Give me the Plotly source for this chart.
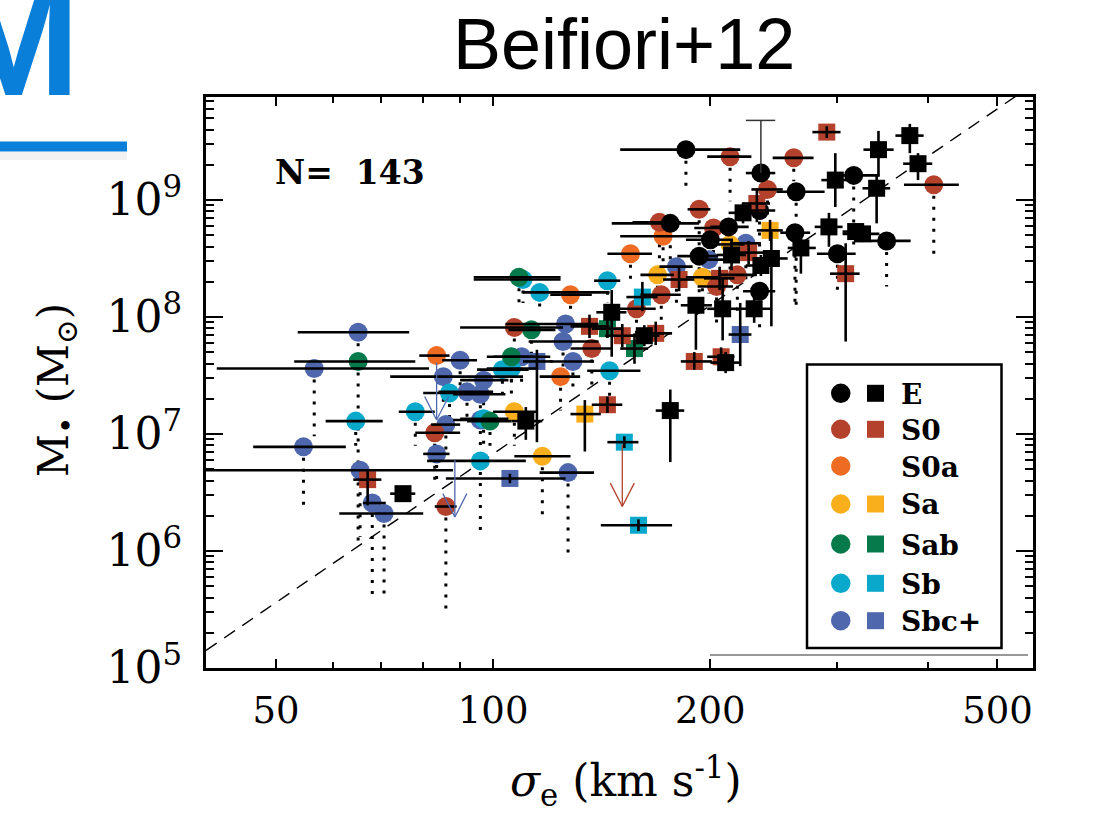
import numpy as np
import plotly.graph_objects as go

# ---------------- data ----------------
COLORS = {"E": "#000000", "S0": "#B3412C", "S0a": "#EE6B24", "Sa": "#F9AE1C",
          "Sab": "#077A4B", "Sb": "#0AA9CC", "Sbc+": "#4F68AD"}

# circles: (sigma_e [km/s], log M_bh, sigma_lo, sigma_hi, log M lower end of dotted range)
circ_E = [
    (185, 9.43, 150, 220, 9.06), (235, 9.23, 224, 246, 8.95), (316, 9.21, 305, 343, 8.60),
    (263, 9.07, 247, 288, 8.09), (351, 8.65, 333, 379, 8.26), (262, 8.72, 250, 275, 8.07),
    (300, 8.54, 281, 318, 8.20), (212, 8.77, 200, 226, 8.40), (176, 8.80, 146, 193, 8.45),
    (200, 8.66, 185, 215, 8.30), (193, 8.52, 180, 205, 8.10), (234, 8.22, 222, 246, 7.90),
    (234, 8.91, 222, 246, 8.60),
]
circ_E_upper = [(235, 9.23, 9.68, 224, 246)]  # sigma, logM, upper logM, cap lo, cap hi

circ_S0 = [
    (213, 9.37, 198, 228, 8.99), (261, 9.36, 244, 278, 9.16), (408, 9.13, 371, 442, 8.52),
    (193, 8.92, 186, 200, 8.60), (240, 9.09, 228, 252, 8.80), (170, 8.81, 156, 182, 8.50),
    (202, 8.76, 190, 215, 8.40), (218, 8.36, 205, 232, 8.00), (171, 8.19, 160, 182, 7.90),
    (158, 8.07, 148, 168, 7.80), (107, 7.91, 90, 125, 7.70), (137, 7.73, 128, 146, 7.40),
    (83, 7.01, 78, 90, 6.60), (86, 6.38, 83, 89, 5.50), (204, 8.26, 192, 215, 7.95),
]
circ_S0a = [
    (172, 8.69, 150, 195, 8.40), (155, 8.54, 144, 166, 8.30), (128, 8.19, 120, 137, 7.90),
    (124, 7.49, 116, 132, 7.20), (83.5, 7.67, 79, 87, 7.60),
]
circ_Sa = [
    (213, 8.62, 203, 223, 8.40), (169, 8.36, 160, 178, 8.10), (195, 8.34, 185, 205, 8.05),
    (107, 7.19, 100, 115, 6.90), (117, 6.81, 107, 128, 6.29),
]
circ_Sab = [
    (108.6, 8.34, 94, 124, 8.12), (113, 7.89, 105, 122, 7.60), (106, 7.66, 98, 114, 7.40),
    (65, 7.62, 53, 78, 6.09), (99, 7.11, 92, 106, 6.90),
]
circ_Sb = [
    (110, 8.32, 94, 124, 8.12), (116, 8.21, 110, 145, 8.05), (144, 8.31, 138, 150, 8.12),
    (145, 7.54, 135, 160, 7.30), (103, 7.55, 95, 112, 7.30), (106, 7.56, 98, 115, 7.30),
    (87, 7.35, 80, 96, 7.10), (78, 7.19, 74, 83, 6.90), (97, 7.13, 90, 105, 6.85),
    (96, 6.77, 81, 111, 6.12), (64.5, 7.11, 58.6, 70.3, 6.90),
]
circ_Sbc = [
    (65, 7.87, 53.6, 76.5, 7.75), (56.5, 7.56, 41.4, 81.5, 6.98), (54.6, 6.89, 46.5, 62.5, 6.35),
    (65.4, 6.69, 40, 88, 6.12), (68, 6.41, 66, 71, 5.58), (70.6, 6.32, 61.2, 80, 5.61),
    (90, 7.63, 85, 95, 7.40), (85.3, 7.49, 72, 110, 7.25), (92, 7.36, 84, 100, 7.10),
    (96, 7.34, 88, 104, 7.05), (97, 7.46, 90, 105, 7.20), (86, 7.08, 82, 90, 6.85),
    (83.5, 6.83, 80, 87, 6.60), (96, 7.12, 88, 104, 6.90), (126, 7.94, 104, 140, 7.70),
    (125, 7.79, 112, 140, 7.55), (129, 7.62, 120, 138, 7.40), (109.5, 7.66, 100, 120, 7.40),
    (127, 6.67, 116, 138, 5.92), (179.5, 8.43, 170, 189, 8.10), (199, 8.49, 189, 209, 8.20),
    (224, 8.63, 213, 235, 8.30),
]

# squares: (sigma_e, log M_bh, sigma_lo, sigma_hi, logM_lo, logM_hi)
sq_E = [
    (342, 9.43, 326, 359, 9.20, 9.59), (378, 9.55, 361, 395, 9.40, 9.65), (388, 9.31, 370, 406, 9.17, 9.40),
    (298, 9.17, 285, 309, 8.94, 9.40), (340, 9.10, 325, 355, 8.80, 9.21), (292, 8.77, 279, 305, 8.60, 8.89),
    (318, 8.73, 305, 332, 8.65, 8.80), (325, 8.71, 305, 343, 8.64, 8.78), (267, 8.59, 256, 280, 8.37, 8.69),
    (222, 8.89, 212, 232, 8.80, 8.98), (214, 8.53, 204, 224, 8.40, 8.66), (243, 8.50, 232, 256, 7.92, 8.73),
    (235, 8.44, 224, 247, 8.35, 8.53), (191, 8.10, 182, 201, 7.72, 8.17), (208, 8.07, 198, 218, 7.80, 8.34),
    (230, 8.07, 217, 242, 7.95, 8.18), (146, 8.04, 139, 153, 7.66, 8.23), (162, 7.84, 155, 170, 7.75, 7.93),
    (210, 7.61, 200, 220, 7.52, 7.70), (111, 7.11, 106, 117, 6.95, 7.23), (75, 6.49, 72, 78, 6.44, 6.54),
    (176, 7.20, 168, 184, 6.76, 7.38),
]
sq_S0 = [
    (290, 9.58, 277, 303, 9.53, 9.63), (232, 8.97, 222, 242, 8.81, 9.10), (226, 8.55, 215, 238, 8.45, 8.65),
    (308, 8.37, 293, 322, 7.79, 8.63), (181, 8.32, 172, 190, 8.22, 8.42), (206, 8.33, 196, 216, 8.23, 8.43),
    (136, 7.92, 128, 145, 7.82, 8.02), (151, 7.84, 143, 160, 7.74, 7.94), (168, 7.86, 160, 177, 7.76, 7.96),
    (190, 7.62, 182, 201, 7.55, 7.70), (207, 7.66, 198, 216, 7.58, 7.74), (144, 7.25, 137, 151, 7.18, 7.32),
    (67, 6.61, 64, 70, 6.39, 6.69),
]
sq_Sa = [(242, 8.74, 232, 252, 8.65, 8.83), (134, 7.17, 128, 141, 6.85, 7.29)]
sq_Sab = [(144, 7.90, 137, 151, 7.82, 7.98), (157, 7.73, 150, 164, 7.60, 7.86)]
sq_Sb = [(161, 8.17, 153, 169, 8.05, 8.30), (152, 6.93, 144, 159, 6.88, 6.98), (159, 6.22, 141, 177, 6.17, 6.27)]
sq_Sbc = [(115, 7.62, 110, 121, 6.93, 7.72), (105.5, 6.62, 86, 126, 6.58, 6.66), (220, 7.85, 212, 228, 7.58, 8.12)]

# upper-limit arrows: (sigma_e, logM start, logM tip, class)
arrows = [(83.5, 7.61, 7.12, "Sbc+"), (88.5, 6.78, 6.29, "Sbc+"), (151, 6.91, 6.38, "S0")]

# fitted relation: log M = FIT_A + FIT_B * log(sigma / FIT_PIVOT)
FIT_A, FIT_B, FIT_PIVOT = 8.10, 4.22, 200.0

N_TEXT = "N=&nbsp;&nbsp;143"
legend_labels = ["E", "S0", "S0a", "Sa", "Sab", "Sb", "Sbc+"]
legend_square = [True, True, False, True, True, True, True]

x_ticks = [50, 100, 200, 500]
x_minor = [40, 60, 70, 80, 90, 300, 400]
y_ticks = [1e5, 1e6, 1e7, 1e8, 1e9]
y_ticktext = ["10<sup>5</sup>", "10<sup>6</sup>", "10<sup>7</sup>", "10<sup>8</sup>", "10<sup>9</sup>"]
y_minor = [k * 10.0 ** n for n in range(5, 10) for k in range(2, 10)]

X_RANGE = (40, 560)
Y_RANGE_LOG = (5.0, 9.88)

circles = {"E": circ_E, "S0": circ_S0, "S0a": circ_S0a, "Sa": circ_Sa,
           "Sab": circ_Sab, "Sb": circ_Sb, "Sbc+": circ_Sbc}
squares = {"E": sq_E, "S0": sq_S0, "Sa": sq_Sa, "Sab": sq_Sab, "Sb": sq_Sb, "Sbc+": sq_Sbc}
order = ["Sbc+", "Sb", "Sab", "Sa", "S0a", "S0", "E"]

# ---------------- figure ----------------
W, H = 1102, 817
L, R, T, B = 206, 1033, 97, 668


def px(x):
    return (x - L) / (R - L)


def py(y):
    return (B - y) / (B - T)


fig = go.Figure()

# fit line
sf = np.logspace(np.log10(X_RANGE[0]), np.log10(X_RANGE[1]), 60)
mf = 10 ** (FIT_A + FIT_B * np.log10(sf / FIT_PIVOT))
fig.add_trace(go.Scatter(x=sf, y=mf, mode="lines",
                         line=dict(color="black", width=1.4, dash="13px,9px"),
                         hoverinfo="skip", showlegend=False))

# dotted ranges for circles
dx, dy = [], []
for k in order:
    for s, m, slo, shi, mlo in circles[k]:
        dx += [s, s, None]
        dy += [10 ** m, 10 ** mlo, None]
fig.add_trace(go.Scatter(x=dx, y=dy, mode="lines",
                         line=dict(color="black", width=3, dash="3px,8px"),
                         hoverinfo="skip", showlegend=False))

# markers
for k in order:
    pts = circles[k]
    fig.add_trace(go.Scatter(x=[p[0] for p in pts], y=[10 ** p[1] for p in pts], mode="markers",
                             marker=dict(symbol="circle", size=19, color=COLORS[k], line=dict(width=0)),
                             name=k, showlegend=False))
for k in order:
    if k not in squares:
        continue
    pts = squares[k]
    fig.add_trace(go.Scatter(x=[p[0] for p in pts], y=[10 ** p[1] for p in pts], mode="markers",
                             marker=dict(symbol="square", size=17, color=COLORS[k], line=dict(width=0)),
                             name=k, showlegend=False))

# error bars (drawn over markers)
ex, ey = [], []
for k in order:
    for s, m, slo, shi, mlo in circles[k]:
        ex += [slo, shi, None]
        ey += [10 ** m, 10 ** m, None]
    for s, m, slo, shi, mlo, mhi in squares.get(k, []):
        ex += [slo, shi, None, s, s, None]
        ey += [10 ** m, 10 ** m, None, 10 ** mlo, 10 ** mhi, None]
fig.add_trace(go.Scatter(x=ex, y=ey, mode="lines", line=dict(color="black", width=2.6),
                         hoverinfo="skip", showlegend=False))

ux, uy = [], []
for s, m, mu, clo, chi in circ_E_upper:
    ux += [s, s, None, clo, chi, None]
    uy += [10 ** m, 10 ** mu, None, 10 ** mu, 10 ** mu, None]
fig.add_trace(go.Scatter(x=ux, y=uy, mode="lines", line=dict(color="#333333", width=1.5),
                         hoverinfo="skip", showlegend=False))

# arrows
for s, m0, m1, k in arrows:
    f = 10 ** (12 / 722)
    ax = [s, s, None, s * f, s, s / f]
    ay = [10 ** m0, 10 ** m1, None, 10 ** (m1 + 0.2), 10 ** m1, 10 ** (m1 + 0.2)]
    fig.add_trace(go.Scatter(x=ax, y=ay, mode="lines", line=dict(color=COLORS[k], width=1.3),
                             hoverinfo="skip", showlegend=False))

serif = "DejaVu Serif"
fig.update_xaxes(type="log", range=[np.log10(X_RANGE[0]), np.log10(X_RANGE[1])],
                 showline=True, linewidth=3, linecolor="black", mirror="allticks",
                 ticks="inside", ticklen=9, tickwidth=2, tickcolor="black",
                 tickmode="array", tickvals=x_ticks, ticktext=[str(v) for v in x_ticks],
                 tickfont=dict(family=serif, size=37, color="black"),
                 minor=dict(tickmode="array", tickvals=x_minor, ticks="inside", ticklen=6,
                            tickwidth=2, tickcolor="black"),
                 showgrid=False, zeroline=False, ticklabelstandoff=8)
fig.update_yaxes(type="log", range=list(Y_RANGE_LOG),
                 showline=True, linewidth=3, linecolor="black", mirror="allticks",
                 ticks="inside", ticklen=17, tickwidth=2, tickcolor="black",
                 tickmode="array", tickvals=y_ticks, ticktext=y_ticktext,
                 tickfont=dict(family=serif, size=44, color="black"),
                 minor=dict(tickmode="array", tickvals=y_minor, ticks="inside", ticklen=8,
                            tickwidth=2, tickcolor="black"),
                 showgrid=False, zeroline=False, ticklabelstandoff=12)

shapes = []
annotations = []

# slide decorations
shapes.append(dict(type="line", xref="paper", yref="paper", x0=px(0), x1=px(127), y0=py(156), y1=py(156),
                   line=dict(color="rgba(0,0,0,0.05)", width=8)))
shapes.append(dict(type="line", xref="paper", yref="paper", x0=px(-5), x1=px(127), y0=py(146.5), y1=py(146.5),
                   line=dict(color="#0A7FDA", width=10)))
annotations.append(dict(text="<b>M</b>", x=px(82), y=py(40), xref="paper", yref="paper", showarrow=False,
                        xanchor="right", yanchor="middle",
                        font=dict(family="Liberation Sans", size=160, color="#0A7FDA")))
annotations.append(dict(text="Beifiori+12", x=px(623.5), y=py(44), xref="paper", yref="paper", showarrow=False,
                        xanchor="center", yanchor="middle",
                        font=dict(family="Liberation Sans", size=72, color="black")))

# axis titles
annotations.append(dict(text="M<sub>•</sub> (M<sub>⊙</sub>)", x=px(56), y=py(390), xref="paper", yref="paper",
                        showarrow=False, textangle=-90, xanchor="center", yanchor="middle",
                        font=dict(family=serif, size=42, color="black")))
annotations.append(dict(text="<i>σ</i><sub>e</sub> (km s<sup>-1</sup>)", x=px(626), y=py(781),
                        xref="paper", yref="paper", showarrow=False, xanchor="center", yanchor="middle",
                        font=dict(family=serif, size=44, color="black")))

# N label
annotations.append(dict(text="<b>" + N_TEXT + "</b>", x=px(273), y=py(172), xref="paper", yref="paper",
                        showarrow=False, xanchor="left", yanchor="middle",
                        font=dict(family=serif, size=33, color="black")))

# legend box
shapes.append(dict(type="rect", xref="paper", yref="paper", x0=px(807), x1=px(1001.5), y0=py(648), y1=py(364.5),
                   line=dict(color="black", width=2.5), fillcolor="white", layer="above"))
rows = [393.3, 429.3, 466, 504, 544, 583.3, 620.7]
for lab, hsq, yr in zip(legend_labels, legend_square, rows):
    shapes.append(dict(type="circle", xref="paper", yref="paper", x0=px(831), x1=px(850.5),
                       y0=py(yr + 9.7), y1=py(yr - 9.7), fillcolor=COLORS[lab], line=dict(width=0), layer="above"))
    if hsq:
        shapes.append(dict(type="rect", xref="paper", yref="paper", x0=px(867), x1=px(884),
                           y0=py(yr + 8.5), y1=py(yr - 8.5), fillcolor=COLORS[lab], line=dict(width=0),
                           layer="above"))
    annotations.append(dict(text="<b>" + lab + "</b>", x=px(899), y=py(yr + 1), xref="paper", yref="paper",
                            showarrow=False, xanchor="left", yanchor="middle",
                            font=dict(family=serif, size=28, color="black")))

# thin line below legend
shapes.append(dict(type="line", xref="paper", yref="paper", x0=px(710), x1=px(1028), y0=py(655), y1=py(655),
                   line=dict(color="#333333", width=1)))

fig.update_layout(width=W, height=H, margin=dict(l=L, r=W - R, t=T, b=H - B, pad=0),
                  paper_bgcolor="white", plot_bgcolor="white", showlegend=False,
                  shapes=shapes, annotations=annotations)

fig.write_html("out.html")
